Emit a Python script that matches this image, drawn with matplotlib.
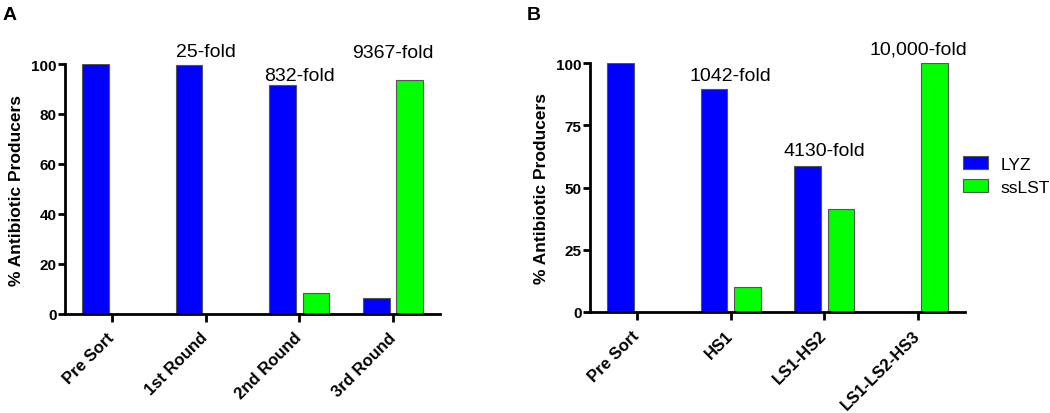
import matplotlib
matplotlib.use("Agg")
import matplotlib.pyplot as plt
from matplotlib.patches import Patch
import numpy as np

plt.rcParams['font.family'] = ['Liberation Sans', 'DejaVu Sans']

# panel A data
rounds_a = ['Pre Sort', '1st Round', '2nd Round', '3rd Round']
lyz_a = [100, 99.7, 91.6, 6.3]
sslst_a = [0, 0, 8.3, 93.6]
fold_a = ['', '25-fold', '832-fold', '9367-fold']
fold_y_a = [0, 105, 95.5, 104.8]

# panel B data
rounds_b = ['Pre Sort', 'HS1', 'LS1-HS2', 'LS1-LS2-HS3']
lyz_b = [100, 89.7, 58.6, 0]
sslst_b = [0, 10.2, 41.4, 100]
fold_b = ['', '1042-fold', '4130-fold', '10,000-fold']
fold_y_b = [0, 94.8, 65, 105.6]

BLUE = '#0000ff'
GREEN = '#00ff00'
EDGE = '#555555'
W = 0.285
OFF = 0.178


def draw_panel(ax, cats, lyz, sslst, folds, fold_y, yticks):
    x = np.arange(len(cats))
    b1 = ax.bar(x - OFF, lyz, W, color=BLUE, edgecolor=EDGE, linewidth=0.8)
    b2 = ax.bar(x + OFF, sslst, W, color=GREEN, edgecolor=EDGE, linewidth=0.8)
    # hide zero-height bars
    for b in list(b1) + list(b2):
        if b.get_height() == 0:
            b.set_visible(False)
    ax.set_xlim(-0.5, len(cats) - 0.5)
    ax.set_ylim(0, 100)
    ax.set_yticks(yticks)
    ax.set_yticklabels([str(t) for t in yticks], fontsize=11, fontweight='bold')
    ax.set_xticks(x)
    ax.set_xticklabels(cats, rotation=45, ha='right', va='center',
                       rotation_mode='anchor', fontsize=12, fontweight='bold')
    for sp in ['top', 'right']:
        ax.spines[sp].set_visible(False)
    for sp in ['left', 'bottom']:
        ax.spines[sp].set_linewidth(2)
    ax.tick_params(axis='x', length=6, width=2, pad=9)
    ax.tick_params(axis='y', length=5, width=2, pad=1)
    ax.set_ylabel('% Antibiotic Producers', fontsize=12.5, fontweight='bold', labelpad=5)
    for i, t in enumerate(folds):
        if t:
            ax.text(x[i], fold_y[i], t, ha='center', va='center', fontsize=14, clip_on=False)


fig = plt.figure(figsize=(10.5, 4.14), dpi=100)
ax_a = fig.add_axes([65 / 1050, 1 - 315 / 414, 375 / 1050, 250 / 414])
ax_b = fig.add_axes([590 / 1050, 1 - 313 / 414, 375 / 1050, 249 / 414])

draw_panel(ax_a, rounds_a, lyz_a, sslst_a, fold_a, fold_y_a, [0, 20, 40, 60, 80, 100])
draw_panel(ax_b, rounds_b, lyz_b, sslst_b, fold_b, fold_y_b, [0, 25, 50, 75, 100])

handles = [Patch(facecolor=BLUE, edgecolor=EDGE, linewidth=0.8),
           Patch(facecolor=GREEN, edgecolor=EDGE, linewidth=0.8)]
fig.legend(handles, ['LYZ', 'ssLST'], loc='center left',
           bbox_to_anchor=(963 / 1050, 1 - 176.5 / 414), frameon=False,
           fontsize=12.5, handlelength=1.45, handleheight=0.7,
           handletextpad=0.7, labelspacing=0.45, borderpad=0, borderaxespad=0)

fig.text(3 / 1050, 1 - 15 / 414, 'A', fontsize=14, fontweight='bold', va='center', ha='left')
fig.text(527 / 1050, 1 - 15 / 414, 'B', fontsize=14, fontweight='bold', va='center', ha='left')

fig.savefig('out.png', dpi=100)
